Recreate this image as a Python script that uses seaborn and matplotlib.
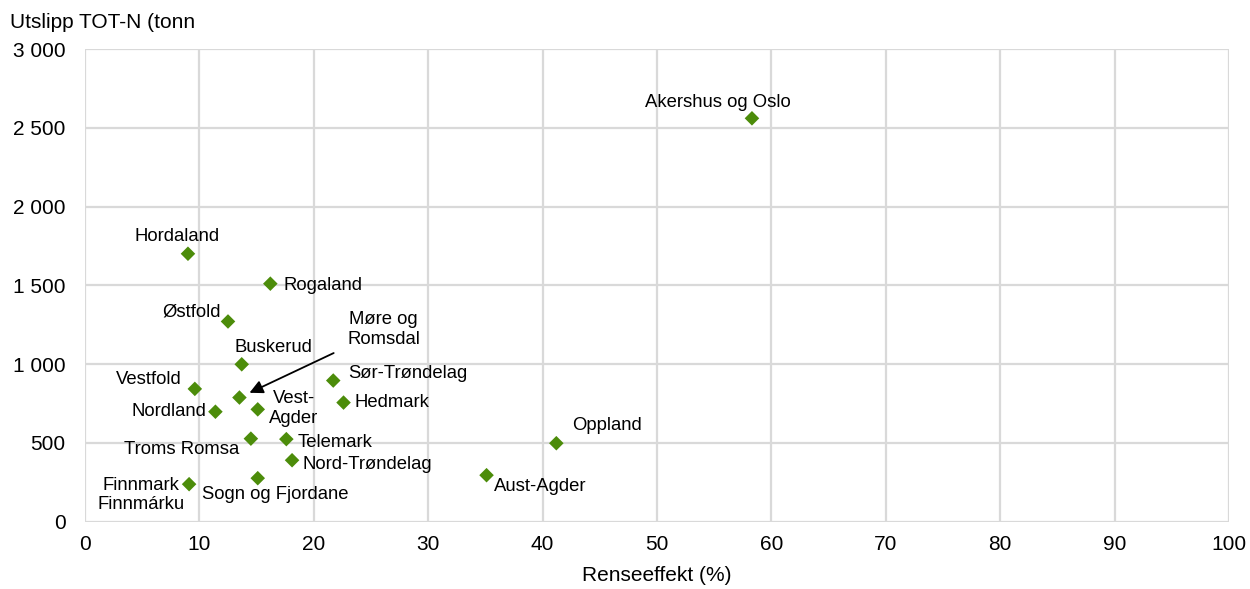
import matplotlib
matplotlib.use('Agg')
import matplotlib.pyplot as plt
import matplotlib.ticker as mticker
import pandas as pd
import seaborn as sns

# Data
counties = [
  'Akershus og Oslo', 'Hordaland', 'Rogaland', 'Østfold', 'Buskerud', 'Vestfold',
  'Møre og\nRomsdal', 'Nordland', 'Vest-\nAgder', 'Sør-Trøndelag', 'Hedmark',
  'Troms Romsa', 'Telemark', 'Nord-Trøndelag', 'Finnmark\nFinnmárku',
  'Sogn og Fjordane', 'Oppland', 'Aust-Agder'
]
renseeffekt = [58.3, 9.0, 16.2, 12.5, 13.7, 9.6, 13.5, 11.4, 15.1, 21.7, 22.6,
               14.5, 17.6, 18.1, 9.1, 15.1, 41.2, 35.1]
utslipp = [2560, 1700, 1510, 1270, 998, 842, 787, 697, 712, 895, 755,
           526, 523, 389, 237, 275, 497, 294]

# label offsets in pixels (dx, dy) and alignment
label_pos = {
  'Akershus og Oslo': (-34, 16, 'center'),
  'Hordaland': (-11, 17, 'center'),
  'Rogaland': (13, -2, 'left'),
  'Østfold': (-7, 9, 'right'),
  'Buskerud': (-7, 17, 'left'),
  'Vestfold': (-13, 9, 'right'),
  'Nordland': (-9, 0, 'right'),
  'Vest-\nAgder': (36, 1, 'center'),
  'Sør-Trøndelag': (15, 7, 'left'),
  'Hedmark': (11, 0, 'left'),
  'Troms Romsa': (-12, -11, 'right'),
  'Telemark': (11, -3, 'left'),
  'Nord-Trøndelag': (10, -4, 'left'),
  'Finnmark\nFinnmárku': (-48, -11, 'center'),
  'Sogn og Fjordane': (-56, -16, 'left'),
  'Oppland': (16, 18, 'left'),
  'Aust-Agder': (7, -11, 'left'),
}

df = pd.DataFrame({'fylke': counties, 'rense': renseeffekt, 'utslipp': utslipp})

sns.set_style('white')
plt.rcParams['font.family'] = ['Liberation Sans', 'DejaVu Sans']
plt.rcParams['text.color'] = 'black'
plt.rcParams['xtick.color'] = 'black'
plt.rcParams['ytick.color'] = 'black'
plt.rcParams['axes.labelcolor'] = 'black'

fig = plt.figure(figsize=(12.5, 5.89), dpi=100)
ax = fig.add_axes([0.068, 0.1146, 0.9152, 0.8022])

sns.scatterplot(data=df, x='rense', y='utslipp', marker='D', s=55,
                color='#4C8C0A', edgecolor='none', ax=ax, zorder=3)

ax.set_xlim(0, 100)
ax.set_ylim(0, 3000)
ax.xaxis.set_major_locator(mticker.MultipleLocator(10))
ax.yaxis.set_major_locator(mticker.MultipleLocator(500))
ax.yaxis.set_major_formatter(mticker.FuncFormatter(lambda v, p: f'{int(v):,}'.replace(',', ' ')))
ax.grid(True, color='#D9D9D9', linewidth=1.6)
for s in ax.spines.values():
  s.set_visible(False)
ax.tick_params(axis='both', length=0, labelsize=15)
ax.tick_params(axis='y', pad=14)
ax.tick_params(axis='x', pad=10)
ax.set_xlabel('Renseeffekt (%)', fontsize=15, labelpad=8)
ax.set_ylabel('')
fig.text(0.008, 0.962, 'Utslipp TOT-N (tonn', fontsize=15, ha='left', va='center')

for name, x, y in zip(counties, renseeffekt, utslipp):
  if name in label_pos:
    dx, dy, ha = label_pos[name]
    ax.annotate(name, (x, y), xytext=(dx, dy), textcoords='offset pixels',
                ha=ha, va='center', fontsize=13.3, multialignment='center')

# Møre og Romsdal with arrow
i = counties.index('Møre og\nRomsdal')
ax.annotate(counties[i], (renseeffekt[i], utslipp[i]), xytext=(144, 68),
            textcoords='offset pixels', ha='center', va='center', fontsize=13.3,
            multialignment='center',
            arrowprops=dict(arrowstyle='-|>', color='black', lw=1.3,
                            mutation_scale=20, shrinkA=8, shrinkB=8))

fig.savefig('out.png', dpi=100)
